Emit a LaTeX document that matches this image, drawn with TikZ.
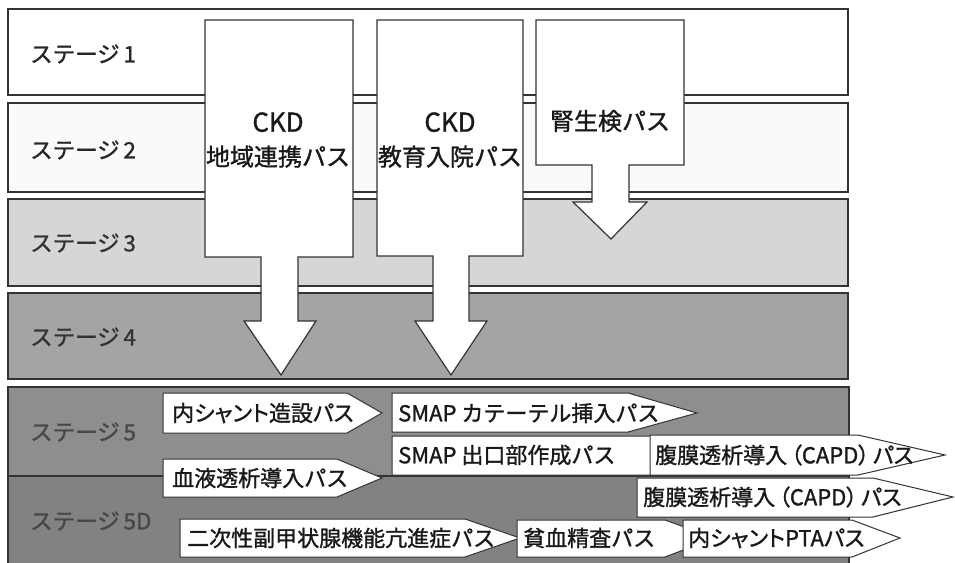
\documentclass[tikz,border=0pt]{standalone}
\usepackage{fontspec}
\setmainfont{Noto Sans CJK JP}[FakeBold=1.2]
\newfontfamily\jpprop{Noto Sans CJK JP}[FakeBold=1.2,RawFeature=+palt]
\definecolor{linec}{HTML}{333333}
\definecolor{s3fill}{HTML}{D6D6D6}
\definecolor{s4fill}{HTML}{A4A4A4}
\definecolor{s5fill}{HTML}{8E8E8E}
\definecolor{s5dfill}{HTML}{828282}
\definecolor{dimtext}{HTML}{474747}
\begin{document}
\begin{tikzpicture}[x=1pt,y=-1pt,
  stagebox/.style={draw=linec, line width=1.2pt},
  bigarrow/.style={draw=linec, fill=white, line width=1.2pt, line join=miter},
  tag/.style={draw=linec, fill=white, line width=1pt, line join=miter},
  stagelabel/.style={anchor=west, inner sep=0pt, font=\fontsize{22.5}{24}\selectfont},
  taglabel/.style={anchor=west, inner sep=0pt, font=\fontsize{22}{24}\selectfont, text=black!90},
  proplabel/.style={anchor=west, inner sep=0pt, font=\jpprop\fontsize{22}{24}\selectfont, text=black!90},
  arrowlabel/.style={align=center, inner sep=0pt, font=\fontsize{24}{34}\selectfont, text=black!90}]
\useasboundingbox (0,0) rectangle (955,562);
\fill[white] (0,0) rectangle (955,562);
% stages
\draw[stagebox, fill=white] (8,9) rectangle (848,95);
\draw[stagebox, fill=white!98!black] (8,103) rectangle (848,192);
\draw[stagebox, fill=s3fill] (8,199) rectangle (848,286);
\draw[stagebox, fill=s4fill] (8,293) rectangle (848,379);
\draw[stagebox, fill=s5fill] (8,387) rectangle (849,476);
\fill[s5dfill] (8,476) rectangle (849,563);
\draw[stagebox] (8,563) -- (8,476) -- (849,476) -- (849,563);
\node[stagelabel, text=black!85] (st1) at (30,54) {ステージ\,1};
\node[stagelabel, text=black!85] (st2) at (30,150) {ステージ\,2};
\node[stagelabel, text=black!80] (st3) at (30,243) {ステージ\,3};
\node[stagelabel, text=black!80] (st4) at (30,337) {ステージ\,4};
\node[stagelabel, text=dimtext] (st5) at (30,432) {ステージ\,5};
\node[stagelabel, text=dimtext] (st5d) at (30,521) {ステージ\,5D};
% big arrows
\draw[bigarrow] (205,20) -- (353,20) -- (353,257) -- (298,257) -- (298,321) -- (316,321)
  -- (281,375) -- (244,321) -- (261,321) -- (261,257) -- (205,257) -- cycle;
\draw[bigarrow] (377,20) -- (523,20) -- (523,256) -- (469,256) -- (469,321) -- (487,321)
  -- (451,375) -- (415,321) -- (433,321) -- (433,256) -- (377,256) -- cycle;
\draw[bigarrow] (536,20) -- (684,20) -- (684,165) -- (629,165) -- (629,202) -- (647,202)
  -- (611,239) -- (573,202) -- (592,202) -- (592,165) -- (536,165) -- cycle;
\node[arrowlabel] (a1) at (278,140) {{\fontsize{26}{34}\selectfont CKD}\\地域連携パス};
\node[arrowlabel] (a2) at (450,140) {{\fontsize{26}{34}\selectfont CKD}\\教育入院パス};
\node[arrowlabel] (a3) at (610,121) {腎生検パス};
% tags in stage 5 / 5D
\draw[tag] (163,393) -- (347,393) -- (382,413) -- (347,433) -- (163,433) -- cycle;
\node[proplabel] (t1) at (172,413) {内シャント造設パス};
\draw[tag] (392,393) -- (628,393) -- (697,413) -- (628,432) -- (392,432) -- cycle;
\node[taglabel] (t2) at (398,413) {SMAP カテーテル挿入パス};
\draw[tag] (392,436) -- (655,436) -- (690,455) -- (655,475) -- (392,475) -- cycle;
\node[taglabel] (t3) at (398,455) {SMAP 出口部作成パス};
\draw[tag] (650,435) -- (858,435) -- (945,455) -- (858,475) -- (650,475) -- cycle;
\node[proplabel] (t4) at (655,455) {腹膜透析導入\,（CAPD）\,パス};
\draw[tag] (163,459) -- (337,459) -- (382,478) -- (337,497) -- (163,497) -- cycle;
\node[taglabel] (t5) at (172,478) {血液透析導入パス};
\draw[tag] (637,478) -- (873,478) -- (953,497) -- (873,517) -- (637,517) -- cycle;
\node[proplabel] (t6) at (643,497) {腹膜透析導入\,（CAPD）\,パス};
\draw[tag] (180,519) -- (465,519) -- (520,538) -- (465,557) -- (180,557) -- cycle;
\node[taglabel] (t7) at (187,538) {二次性副甲状腺機能亢進症パス};
\draw[tag] (517,520) -- (665,520) -- (715,538) -- (665,557) -- (517,557) -- cycle;
\node[taglabel] (t8) at (523,538) {貧血精査パス};
\draw[tag] (683,520) -- (852,520) -- (900,538) -- (852,557) -- (683,557) -- cycle;
\node[proplabel] (t9) at (688,538) {内シャントPTAパス};
\end{tikzpicture}
\end{document}
